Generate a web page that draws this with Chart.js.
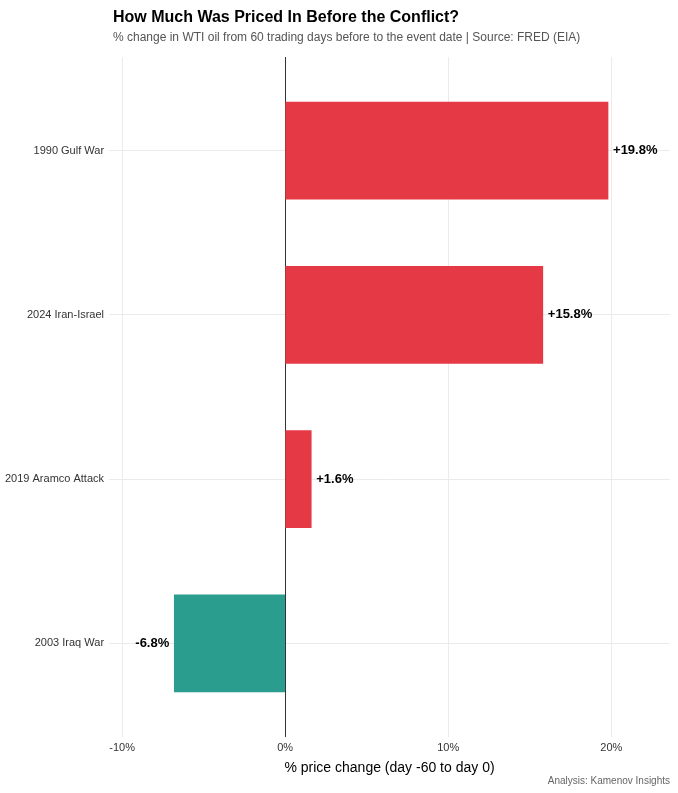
<!DOCTYPE html>
<html><head><meta charset="utf-8">
<script src="https://cdn.jsdelivr.net/npm/chart.js@4.4.0/dist/chart.umd.min.js"></script>
<style>body{margin:0;background:#fff}</style>
</head><body>
<canvas id="c" width="678" height="793"></canvas>
<script>
const categories = ["1990 Gulf War", "2024 Iran-Israel", "2019 Aramco Attack", "2003 Iraq War"];
const changes = [19.8, 15.8, 1.6, -6.8];
const labels = ["+19.8%", "+15.8%", "+1.6%", "-6.8%"];
const xTicks = [-10, 0, 10, 20];

const RED = "#E63946", TEAL = "#2A9D8F";
const F = "Liberation Sans, Arial, sans-serif";

const deco = {
  id: "deco",
  beforeDatasetsDraw(chart) {
    const {ctx, chartArea: a, scales: {x}} = chart;
    ctx.save();
    ctx.strokeStyle = "#333"; ctx.lineWidth = 1;
    const zx = Math.round(x.getPixelForValue(0)) + 0.5;
    ctx.beginPath(); ctx.moveTo(zx, a.top); ctx.lineTo(zx, a.bottom); ctx.stroke();
    ctx.restore();
  },
  afterDatasetsDraw(chart) {
    const {ctx, scales: {x, y}} = chart;
    ctx.save();
    ctx.font = "bold 13px " + F; ctx.fillStyle = "#000"; ctx.textBaseline = "middle";
    changes.forEach((v, i) => {
      const px = x.getPixelForValue(v), py = y.getPixelForValue(i);
      if (v >= 0) { ctx.textAlign = "left"; ctx.fillText(labels[i], px + 5, py); }
      else { ctx.textAlign = "right"; ctx.fillText(labels[i], px - 5, py); }
    });
    ctx.textAlign = "left"; ctx.textBaseline = "alphabetic";
    ctx.font = "bold 16px " + F; ctx.fillStyle = "#000";
    ctx.fillText("How Much Was Priced In Before the Conflict?", 113, 22);
    ctx.font = "12px " + F; ctx.fillStyle = "#555";
    ctx.fillText("% change in WTI oil from 60 trading days before to the event date | Source: FRED (EIA)", 113, 41);
    ctx.textAlign = "right"; ctx.font = "10px " + F; ctx.fillStyle = "#666";
    ctx.fillText("Analysis: Kamenov Insights", 670, 784);
    ctx.restore();
  }
};

new Chart(document.getElementById("c"), {
  type: "bar",
  data: {
    datasets: [{
      data: changes.map((v, i) => ({x: v, y: i})),
      backgroundColor: changes.map(v => v >= 0 ? RED : TEAL),
      barThickness: 97
    }]
  },
  options: {
    indexAxis: "y",
    responsive: false,
    animation: false,
    layout: {padding: {top: 57, right: 8, bottom: 16, left: 0}},
    plugins: {legend: {display: false}, tooltip: {enabled: false}},
    scales: {
      x: {
        type: "linear", min: -10.8, max: 23.6,
        afterBuildTicks: s => { s.ticks = xTicks.map(v => ({value: v})); },
        ticks: {callback: v => v + "%", color: "#333", font: {size: 11, family: F}, padding: 4},
        grid: {color: "#ebebeb", drawTicks: false},
        border: {display: false},
        title: {display: true, text: "% price change (day -60 to day 0)", color: "#000", font: {size: 14, family: F}, padding: {top: 2, bottom: 0}}
      },
      y: {
        type: "linear", reverse: true, min: -0.57, max: 3.57, offset: false,
        afterBuildTicks: s => { s.ticks = categories.map((c, i) => ({value: i})); },
        ticks: {callback: v => categories[v], color: "#333", font: {size: 11, family: F}, padding: 5},
        grid: {color: "#ebebeb", drawTicks: false, offset: false},
        border: {display: false}
      }
    }
  },
  plugins: [deco]
});
</script>
</body></html>
